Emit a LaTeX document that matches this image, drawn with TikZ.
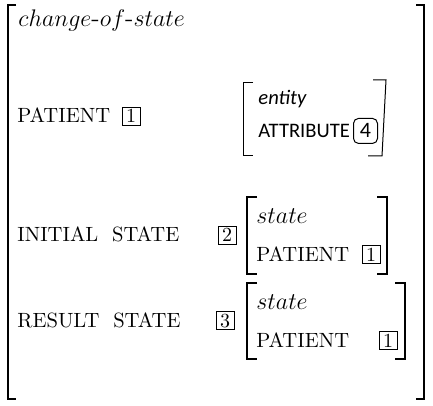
\documentclass[tikz,border=0pt]{standalone}
\usepackage{fontspec}
\newfontfamily\calfont{Carlito}
\usetikzlibrary{positioning}

\begin{document}
\begin{tikzpicture}[x=0.5pt,y=-0.5pt,
      feat/.style={anchor=base west,inner sep=0pt,font=\fontsize{10.3}{12}\selectfont},
      typ/.style={anchor=base west,inner sep=0pt,font=\fontsize{12.8}{14}\selectfont},
      tag/.style={draw,anchor=base,line width=0.45pt,inner sep=0pt,minimum size=9pt,font=\fontsize{10}{12}\selectfont},
      calfeat/.style={anchor=base west,inner sep=0pt,font=\calfont\fontsize{10.3}{12}\selectfont},
      caltag/.style={draw,anchor=base,line width=0.5pt,rounded corners=2.5pt,inner sep=0pt,
        minimum width=12pt,minimum height=12.5pt,font=\calfont\fontsize{11}{12}\selectfont},
      brack/.style={line width=1pt},
      thinbrack/.style={line width=0.5pt}
    ]
    \useasboundingbox (0,0) rectangle (433,406);
    % outer structure
    \draw[brack] (16,5) -- (8,5) -- (8,399) -- (16,399);
    \draw[brack] (416,5) -- (424,5) -- (424,399) -- (416,399);
    \node[typ] (cos) at (18,27) {$change\mbox{-}of\mbox{-}state$};
    % patient
    \node[feat] (pat) at (17,123) {PATIENT};
    \node[tag] (tagA) at (131,123) {1};
    \draw[thinbrack] (253,83) -- (243,83) -- (243,156) -- (253,156);
    \draw[thinbrack] (373,80) -- (386,80) -- (382,156) -- (368,156);
    \node[calfeat] (ent) at (258,105) {\itshape entity};
    \node[calfeat] (attr) at (258,138) {ATTRIBUTE};
    \node[caltag] (tagD) at (365.5,138) {4};
    % initial state
    \node[feat] (ini) at (17,242) {INITIAL\ \ STATE};
    \node[tag] (tagB) at (227,242) {2};
    \draw[brack] (257,197) -- (247,197) -- (247,274) -- (257,274);
    \draw[brack] (377,197) -- (387,197) -- (387,274) -- (377,274);
    \node[typ] (stB) at (256,223) {$state$};
    \node[feat] (patB) at (256,261) {PATIENT};
    \node[tag] (tagB1) at (371,261) {1};
    % result state
    \node[feat] (res) at (17,327) {RESULT\ \ STATE};
    \node[tag] (tagC) at (225,327) {3};
    \draw[brack] (257,283) -- (247,283) -- (247,359) -- (257,359);
    \draw[brack] (395,283) -- (405,283) -- (405,359) -- (395,359);
    \node[typ] (stC) at (256,309) {$state$};
    \node[feat] (patC) at (256,347) {PATIENT};
    \node[tag] (tagC1) at (388,347) {1};
\end{tikzpicture}
\end{document}
